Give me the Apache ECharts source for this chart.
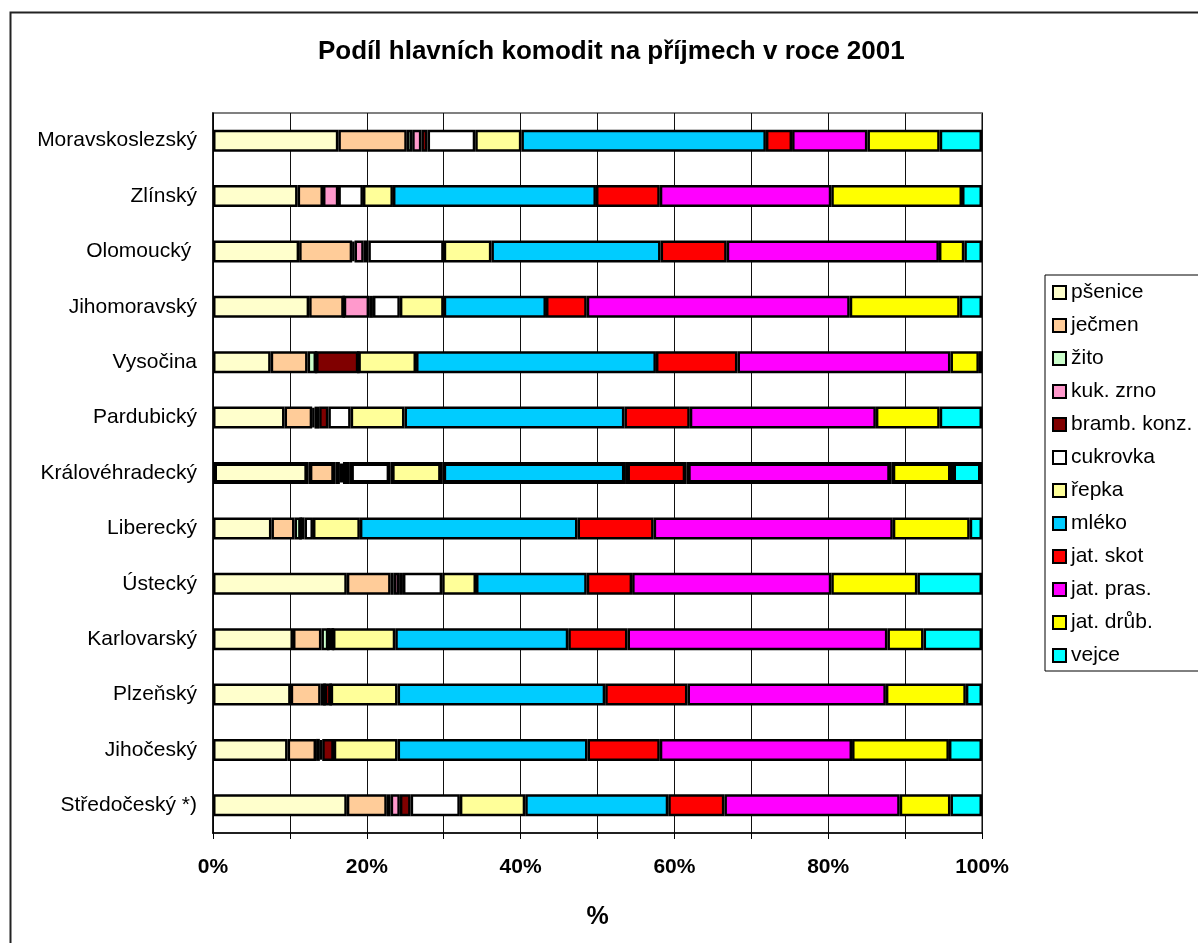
<!DOCTYPE html>
<html>
<head>
<meta charset="utf-8">
<title>Podíl hlavních komodit na příjmech v roce 2001</title>
<script src="https://cdn.jsdelivr.net/npm/echarts@6/dist/echarts.min.js"></script>
<style>
  html, body { margin: 0; padding: 0; background: #fff; }
  #chart { width: 1198px; height: 943px; }
</style>
</head>
<body>
<div id="chart"></div>
<script>
// regions, top to bottom
const regions = [
  'Moravskoslezský', 'Zlínský', 'Olomoucký ', 'Jihomoravský', 'Vysočina',
  'Pardubický', 'Královéhradecký', 'Liberecký', 'Ústecký', 'Karlovarský',
  'Plzeňský', 'Jihočeský', 'Středočeský *)'
]

// share of each commodity (%), same order as regions
const psenice = [16.3, 11.0, 11.2, 12.5, 7.5, 9.3, 12.4, 7.6, 17.4, 10.4, 10.1, 9.7, 17.4]
const jecmen = [8.9, 3.3, 6.9, 4.5, 4.8, 3.6, 3.5, 3.0, 5.7, 3.7, 3.9, 3.7, 5.2]
const zito = [0.7, 0, 0.3, 0, 1.1, 0.3, 0.6, 0.8, 0.4, 0.9, 0.5, 0.5, 0.5]
const kukurice = [1.2, 2.0, 1.2, 3.3, 0, 0.6, 0.4, 0, 0.7, 0, 0, 0.3, 1.2]
const brambory = [0.8, 0, 0.6, 0.5, 5.5, 1.2, 0.9, 0.5, 0.5, 0.6, 0.8, 1.5, 1.4]
const cukrovka = [6.2, 3.2, 9.8, 3.5, 0, 2.9, 5.3, 1.1, 5.1, 0, 0, 0, 6.4]
const repka = [6.0, 3.9, 6.2, 5.7, 7.5, 7.0, 6.7, 6.1, 4.4, 8.1, 8.7, 8.3, 8.5]
const mleko = [31.8, 26.4, 22.0, 13.3, 31.2, 28.6, 23.9, 28.3, 14.4, 22.5, 27.0, 24.7, 18.6]
const skot = [3.4, 8.3, 8.6, 5.3, 10.6, 8.5, 7.9, 9.9, 5.9, 7.7, 10.7, 9.4, 7.3]
const prasata = [9.8, 22.3, 27.6, 34.2, 27.7, 24.2, 26.6, 31.1, 25.9, 33.8, 25.8, 25.0, 22.8]
const drubez = [9.4, 17.0, 3.3, 14.3, 3.7, 8.3, 7.9, 10.0, 11.2, 4.7, 10.4, 12.6, 6.6]
const vejce = [5.5, 2.6, 2.3, 2.9, 0.4, 5.5, 3.9, 1.6, 8.4, 7.6, 2.1, 4.3, 4.1]

const commodities = [
  'pšenice', 'ječmen', 'žito', 'kuk. zrno', 'bramb. konz.', 'cukrovka',
  'řepka', 'mléko', 'jat. skot', 'jat. pras.', 'jat. drůb.', 'vejce'
]
const values = [psenice, jecmen, zito, kukurice, brambory, cukrovka, repka, mleko, skot, prasata, drubez, vejce]
const colors = [
  '#FFFFCC', '#FFCC99', '#CCFFCC', '#FF99CC', '#800000', '#FFFFFF',
  '#FFFF99', '#00CCFF', '#FF0000', '#FF00FF', '#FFFF00', '#00FFFF'
]

const highlighted = 'Královéhradecký'
const font = 'Arial, "Liberation Sans", sans-serif'

const chart = echarts.init(document.getElementById('chart'))

function buildSeries() {
  return commodities.map((name, i) => ({
    name: name,
    type: 'bar',
    stack: 'total',
    barWidth: 22,
    itemStyle: {
      color: colors[i],
      borderColor: '#000',
      borderWidth: 2.5
    },
    data: values[i].map((v, j) =>
      regions[j] === highlighted ? { value: v, itemStyle: { borderWidth: 4 } } : v
    )
  }))
}

chart.setOption({
  animation: false,
  backgroundColor: '#fff',
  textStyle: { fontFamily: font },
  title: {
    text: 'Podíl hlavních komodit na příjmech v roce 2001',
    left: 318,
    top: 39,
    padding: 0,
    textStyle: {
      fontFamily: font,
      fontSize: 26,
      fontWeight: 'bold',
      color: '#000'
    }
  },
  graphic: [
    {
      type: 'rect',
      left: 8,
      top: 10,
      silent: true,
      z: -10,
      shape: { width: 1400, height: 1100 },
      style: { fill: 'none', stroke: '#222', lineWidth: 2 }
    }
  ],
  legend: {
    orient: 'vertical',
    left: 1045,
    top: 275,
    padding: [7, 200, 5, 7],
    itemWidth: 13,
    itemHeight: 13,
    itemGap: 12,
    icon: 'rect',
    borderColor: '#000',
    borderWidth: 1,
    backgroundColor: '#fff',
    textStyle: {
      fontFamily: font,
      fontSize: 21,
      lineHeight: 21,
      color: '#000'
    },
    data: commodities
  },
  grid: {
    left: 213,
    right: 216,
    top: 113,
    bottom: 110,
    show: true,
    borderColor: '#808080',
    borderWidth: 2,
    backgroundColor: 'transparent'
  },
  xAxis: {
    type: 'value',
    min: 0,
    max: 100,
    interval: 10,
    name: '%',
    nameLocation: 'middle',
    nameGap: 72,
    nameTextStyle: {
      fontFamily: font,
      fontSize: 25,
      fontWeight: 'bold',
      color: '#000'
    },
    axisLine: { show: true, lineStyle: { color: '#000', width: 1.5 } },
    axisTick: { show: true, length: 6, lineStyle: { color: '#000' } },
    splitLine: { show: true, lineStyle: { color: '#111', width: 1 } },
    axisLabel: {
      margin: 24,
      fontFamily: font,
      fontSize: 21,
      fontWeight: 'bold',
      color: '#000',
      formatter: (v) => (v % 20 === 0 ? v + '%' : '')
    }
  },
  yAxis: {
    type: 'category',
    inverse: true,
    data: regions,
    axisLine: { show: true, lineStyle: { color: '#000', width: 1.5 } },
    axisTick: { show: false },
    splitLine: { show: false },
    axisLabel: {
      margin: 16,
      fontFamily: font,
      fontSize: 21,
      color: '#000'
    }
  },
  series: buildSeries()
})
</script>
</body>
</html>
